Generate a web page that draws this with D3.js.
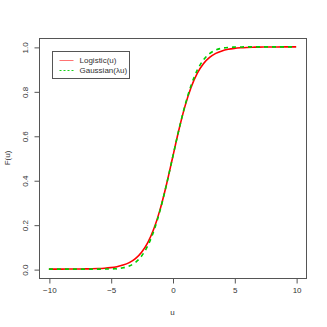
<!DOCTYPE html>
<html>
<head>
<meta charset="utf-8">
<script src="https://cdn.jsdelivr.net/npm/d3@7"></script>
<style>
  body { margin: 0; background: #fff; }
  text { font-family: "Liberation Sans", Arial, sans-serif; fill: #333; }
</style>
</head>
<body>
<div id="plot"></div>
<script>
// values
const uValues = [-10, -9.5, -9, -8.5, -8, -7.5, -7, -6.5, -6, -5.5, -5, -4.5, -4, -3.5, -3, -2.5, -2, -1.5, -1, -0.5,
  0, 0.5, 1, 1.5, 2, 2.5, 3, 3.5, 4, 4.5, 5, 5.5, 6, 6.5, 7, 7.5, 8, 8.5, 9, 9.5, 10];
const logistic = [0.0000, 0.0001, 0.0001, 0.0002, 0.0003, 0.0006, 0.0009, 0.0015, 0.0025, 0.0041, 0.0067, 0.0110, 0.0180, 0.0293, 0.0474, 0.0759, 0.1192, 0.1824, 0.2689, 0.3775,
  0.5, 0.6225, 0.7311, 0.8176, 0.8808, 0.9241, 0.9526, 0.9707, 0.9820, 0.9890, 0.9933, 0.9959, 0.9975, 0.9985, 0.9991, 0.9994, 0.9997, 0.9998, 0.9999, 0.9999, 1.0000];
const gaussian = [0.0000, 0.0000, 0.0000, 0.0000, 0.0000, 0.0000, 0.0000, 0.0000, 0.0001, 0.0003, 0.0009, 0.0024, 0.0061, 0.0141, 0.0301, 0.0586, 0.1050, 0.1736, 0.2654, 0.3770,
  0.5, 0.6230, 0.7346, 0.8264, 0.8950, 0.9414, 0.9699, 0.9859, 0.9939, 0.9976, 0.9991, 0.9997, 0.9999, 1.0000, 1.0000, 1.0000, 1.0000, 1.0000, 1.0000, 1.0000, 1.0000];
const xTicks = [-10, -5, 0, 5, 10];
const yTicks = [0, 0.2, 0.4, 0.6, 0.8, 1.0];
const seriesNames = ["Logistic(u)", "Gaussian(\u03bbu)"];
const seriesColors = ["#ff0000", "#00cd00"];

const width = 327, height = 327;
const box = {left: 39, right: 306, top: 38, bottom: 278};

const svg = d3.select("#plot").append("svg")
  .attr("width", width)
  .attr("height", height);

// R-style 4% padding around the data range
const x = d3.scaleLinear().domain([-10.8, 10.8]).range([box.left, box.right]);
const y = d3.scaleLinear().domain([-0.04, 1.04]).range([box.bottom, box.top]);

// curves
const line = d3.line()
  .x((d, i) => x(uValues[i]))
  .y(d => y(d))
  .curve(d3.curveMonotoneX);

svg.append("path")
  .attr("d", line(logistic))
  .attr("fill", "none")
  .attr("stroke", seriesColors[0])
  .attr("stroke-width", 1.6);

svg.append("path")
  .attr("d", line(gaussian))
  .attr("fill", "none")
  .attr("stroke", seriesColors[1])
  .attr("stroke-width", 1.6)
  .attr("stroke-dasharray", "4,4");

// frame
svg.append("rect")
  .attr("x", box.left + 0.5).attr("y", box.top + 0.5)
  .attr("width", box.right - box.left).attr("height", box.bottom - box.top)
  .attr("fill", "none")
  .attr("stroke", "#555");

// x axis
const xAxis = svg.append("g")
  .attr("transform", `translate(0.5, ${box.bottom + 0.5})`)
  .call(d3.axisBottom(x).tickValues(xTicks).tickSize(5).tickPadding(4)
    .tickFormat(d => d < 0 ? "\u2212" + Math.abs(d) : d));
xAxis.select(".domain").remove();
xAxis.append("line")
  .attr("x1", x(xTicks[0])).attr("x2", x(xTicks[xTicks.length - 1]))
  .attr("stroke", "#555");
xAxis.selectAll("line").attr("stroke", "#555");
xAxis.selectAll("text").attr("font-size", 8).attr("fill", "#333")
  .style("font-family", "'Liberation Sans', Arial, sans-serif");

// y axis
const yAxis = svg.append("g")
  .attr("transform", `translate(${box.left + 0.5}, 0.5)`)
  .call(d3.axisLeft(y).tickValues(yTicks).tickSize(5).tickFormat(d3.format(".1f")));
yAxis.select(".domain").remove();
yAxis.append("line")
  .attr("y1", y(yTicks[0])).attr("y2", y(yTicks[yTicks.length - 1]))
  .attr("stroke", "#555");
yAxis.selectAll("line").attr("stroke", "#555");
yAxis.selectAll(".tick text")
  .attr("x", null).attr("dy", null)
  .attr("text-anchor", "middle")
  .attr("font-size", 8).attr("fill", "#333")
  .style("font-family", "'Liberation Sans', Arial, sans-serif")
  .attr("transform", "translate(-12, 0) rotate(-90)")
  .attr("y", 0);

// axis titles
svg.append("text")
  .attr("x", x(0)).attr("y", 315)
  .attr("text-anchor", "middle")
  .attr("font-size", 8)
  .text("u");

svg.append("text")
  .attr("transform", `translate(10, ${(box.top + box.bottom) / 2}) rotate(-90)`)
  .attr("text-anchor", "middle")
  .attr("font-size", 8)
  .text("F(u)");

// legend
const legend = svg.append("g").attr("transform", "translate(52.5, 51.5)");
legend.append("rect")
  .attr("width", 77).attr("height", 27)
  .attr("fill", "#fff")
  .attr("stroke", "#555");

seriesNames.forEach((name, i) => {
  const row = legend.append("g").attr("transform", `translate(0, ${9 + i * 10})`);
  row.append("line")
    .attr("x1", 7).attr("x2", 21)
    .attr("stroke", seriesColors[i])
    .attr("stroke-width", 1)
    .attr("stroke-opacity", i === 0 ? 0.55 : 0.9)
    .attr("stroke-dasharray", i === 1 ? "2,2" : null);
  row.append("text")
    .attr("x", 27).attr("dy", "0.33em")
    .attr("font-size", 8)
    .text(name);
});
</script>
</body>
</html>
